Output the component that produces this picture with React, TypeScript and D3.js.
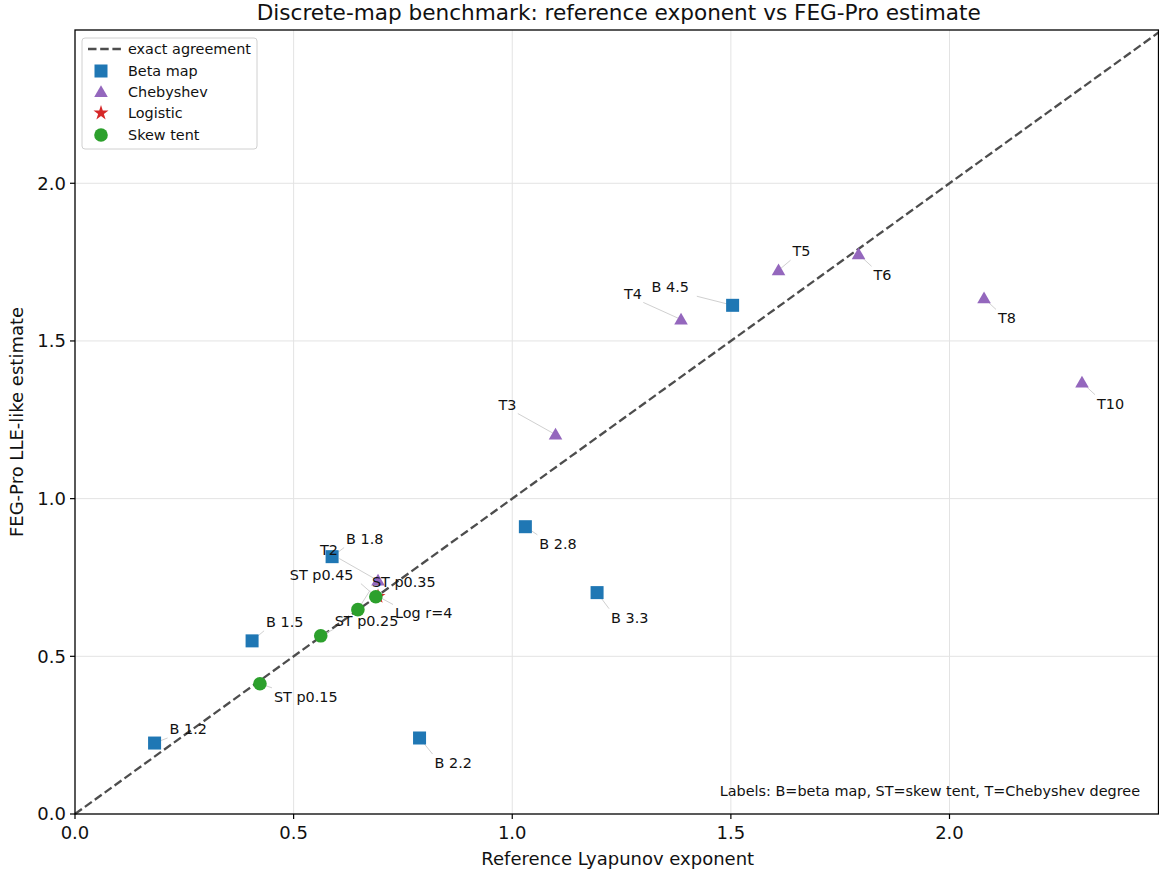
import React from "react";
import * as d3 from "d3";

// ---- data ----
const betaLabels = ["B 1.2", "B 1.5", "B 1.8", "B 2.2", "B 2.8", "B 3.3", "B 4.5"];
const betaRef = [0.182, 0.405, 0.588, 0.788, 1.03, 1.194, 1.504];
const betaEst = [0.225, 0.549, 0.816, 0.241, 0.911, 0.702, 1.613];

const chebLabels = ["T2", "T3", "T4", "T5", "T6", "T8", "T10"];
const chebRef = [0.693, 1.099, 1.386, 1.609, 1.792, 2.079, 2.303];
const chebEst = [0.74, 1.203, 1.568, 1.724, 1.775, 1.635, 1.368];

const logLabels = ["Log r=4"];
const logRef = [0.693];
const logEst = [0.69];

const stLabels = ["ST p0.15", "ST p0.25", "ST p0.35", "ST p0.45"];
const stRef = [0.423, 0.562, 0.647, 0.688];
const stEst = [0.413, 0.565, 0.648, 0.689];

const xTicks = [0, 0.5, 1.0, 1.5, 2.0];
const yTicks = [0, 0.5, 1.0, 1.5, 2.0];

// ---- layout (label offsets in px, left edge / vertical center of text) ----
const labelOffsets: Record<string, [number, number]> = {
  "B 1.2": [15, -14], "B 1.5": [14, -19], "B 1.8": [14, -18], "B 2.2": [15, 25],
  "B 2.8": [14, 17], "B 3.3": [14, 25], "B 4.5": [-81, -18],
  T2: [-58, -31], T3: [-57, -30], T4: [-57, -26], T5: [14, -19], T6: [15, 21],
  T8: [14, 20], T10: [15, 21],
  "Log r=4": [17, 17],
  "ST p0.15": [14, 13], "ST p0.25": [14, -15], "ST p0.35": [14, -28], "ST p0.45": [-86, -22],
};

const W = 1159, H = 872;
const m = { left: 75, right: 1158.5, top: 30, bottom: 814 };
const FONT = "DejaVu Sans, sans-serif";
const C = { beta: "#1f77b4", cheb: "#9467bd", log: "#d62728", st: "#2ca02c" };

const x = d3.scaleLinear().domain([0, 2.478]).range([m.left, m.right]);
const y = d3.scaleLinear().domain([0, 2.486]).range([m.bottom, m.top]);

type Pt = { label: string; rx: number; ry: number; kind: string };
const mk = (labels: string[], rx: number[], ry: number[], kind: string): Pt[] =>
  labels.map((l, i) => ({ label: l, rx: rx[i], ry: ry[i], kind }));

const betaPts = mk(betaLabels, betaRef, betaEst, "beta");
const chebPts = mk(chebLabels, chebRef, chebEst, "cheb");
const logPts = mk(logLabels, logRef, logEst, "log");
const stPts = mk(stLabels, stRef, stEst, "st");
const allPts = [...betaPts, ...chebPts, ...logPts, ...stPts];

const triPath = d3.symbol(d3.symbolTriangle, 80)()!;
const starPath = d3.symbol(d3.symbolStar, 70)()!;

function Marker({ kind, cx, cy }: { kind: string; cx: number; cy: number }) {
  if (kind === "beta")
    return <rect x={cx - 6.5} y={cy - 6.5} width={13} height={13} fill={C.beta} />;
  if (kind === "cheb")
    return <path d={triPath} transform={`translate(${cx},${cy + 1})`} fill={C.cheb} />;
  if (kind === "log")
    return <path d={starPath} transform={`translate(${cx},${cy})`} fill={C.log} />;
  return <circle cx={cx} cy={cy} r={6.8} fill={C.st} />;
}

const LFS = 14.4;
function Leader({ p }: { p: Pt }) {
  const px = x(p.rx), py = y(p.ry);
  const [dx, dy] = labelOffsets[p.label];
  const w = p.label.length * LFS * 0.6;
  const h = LFS * 1.1;
  const bx0 = px + dx - 2, bx1 = px + dx + w + 2;
  const by0 = py + dy - h / 2 - 1, by1 = py + dy + h / 2 + 1;
  const ex = Math.max(bx0, Math.min(px, bx1));
  const ey = Math.max(by0, Math.min(py, by1));
  const len = Math.hypot(ex - px, ey - py);
  if (len < 3) return null;
  const s = 2;
  const sx = px + ((ex - px) * s) / len;
  const sy = py + ((ey - py) * s) / len;
  return <line x1={sx} y1={sy} x2={ex} y2={ey} stroke="#d0d0d0" strokeWidth={1} />;
}

const TFS = 18;

export default function App() {
  return (
    <svg width={W} height={H} style={{ display: "block", position: "absolute", left: 0, top: 0 }} fontFamily={FONT}>
      <rect x={0} y={0} width={W} height={H} fill="#fff" />
      {xTicks.slice(1).map((t) => (
        <line key={"gx" + t} x1={x(t)} x2={x(t)} y1={m.top} y2={m.bottom} stroke="#e3e3e3" strokeWidth={1} />
      ))}
      {yTicks.slice(1).map((t) => (
        <line key={"gy" + t} x1={m.left} x2={m.right} y1={y(t)} y2={y(t)} stroke="#e3e3e3" strokeWidth={1} />
      ))}
      <line x1={x(0)} y1={y(0)} x2={x(2.478)} y2={y(2.478)} stroke="#4d4d4d" strokeWidth={2.3} strokeDasharray="8.5,3.7" />
      {allPts.map((p) => <Leader key={"l" + p.label} p={p} />)}
      {allPts.map((p) => <Marker key={"m" + p.label} kind={p.kind} cx={x(p.rx)} cy={y(p.ry)} />)}
      {allPts.map((p) => {
        const [dx, dy] = labelOffsets[p.label];
        return (
          <text key={"t" + p.label} x={x(p.rx) + dx} y={y(p.ry) + dy} dy="0.35em" fontSize={LFS} fill="#111">
            {p.label}
          </text>
        );
      })}
      <rect x={m.left} y={m.top} width={m.right - m.left} height={m.bottom - m.top} fill="none" stroke="#000" strokeWidth={1.3} />
      {xTicks.map((t) => (
        <g key={"xt" + t}>
          <line x1={x(t)} x2={x(t)} y1={m.bottom} y2={m.bottom + 5} stroke="#000" strokeWidth={1.2} />
          <text x={x(t)} y={m.bottom + 19} dy="0.35em" textAnchor="middle" fontSize={TFS} fill="#111">
            {t.toFixed(1)}
          </text>
        </g>
      ))}
      {yTicks.map((t) => (
        <g key={"yt" + t}>
          <line x1={m.left - 5} x2={m.left} y1={y(t)} y2={y(t)} stroke="#000" strokeWidth={1.2} />
          <text x={m.left - 9} y={y(t)} dy="0.35em" textAnchor="end" fontSize={TFS} fill="#111">
            {t.toFixed(1)}
          </text>
        </g>
      ))}
      <text x={(m.left + m.right) / 2 + 1} y={859} dy="0.35em" textAnchor="middle" fontSize={TFS} fill="#111">
        Reference Lyapunov exponent
      </text>
      <text transform={`translate(17,${(m.top + m.bottom) / 2}) rotate(-90)`} dy="0.35em" textAnchor="middle" fontSize={TFS} fill="#111">
        FEG-Pro LLE-like estimate
      </text>
      <text x={(m.left + m.right) / 2 + 2} y={12} dy="0.35em" textAnchor="middle" fontSize={21.6} fill="#111">
        Discrete-map benchmark: reference exponent vs FEG-Pro estimate
      </text>
      <text x={1140} y={791} dy="0.35em" textAnchor="end" fontSize={14.4} fill="#111">
        Labels: B=beta map, ST=skew tent, T=Chebyshev degree
      </text>
      <g>
        <rect x={82} y={38} width={175} height={111} rx={3} fill="#fff" fillOpacity={0.8} stroke="#d0d0d0" strokeWidth={1} />
        <line x1={88} x2={121} y1={49} y2={49} stroke="#4d4d4d" strokeWidth={2.3} strokeDasharray="8.5,3.7" />
        <text x={128} y={49} dy="0.35em" fontSize={14.4} fill="#111">exact agreement</text>
        <Marker kind="beta" cx={101} cy={71} />
        <text x={128} y={71} dy="0.35em" fontSize={14.4} fill="#111">Beta map</text>
        <Marker kind="cheb" cx={101} cy={92} />
        <text x={128} y={92} dy="0.35em" fontSize={14.4} fill="#111">Chebyshev</text>
        <Marker kind="log" cx={101} cy={113} />
        <text x={128} y={113} dy="0.35em" fontSize={14.4} fill="#111">Logistic</text>
        <Marker kind="st" cx={101} cy={135} />
        <text x={128} y={135} dy="0.35em" fontSize={14.4} fill="#111">Skew tent</text>
      </g>
    </svg>
  );
}
